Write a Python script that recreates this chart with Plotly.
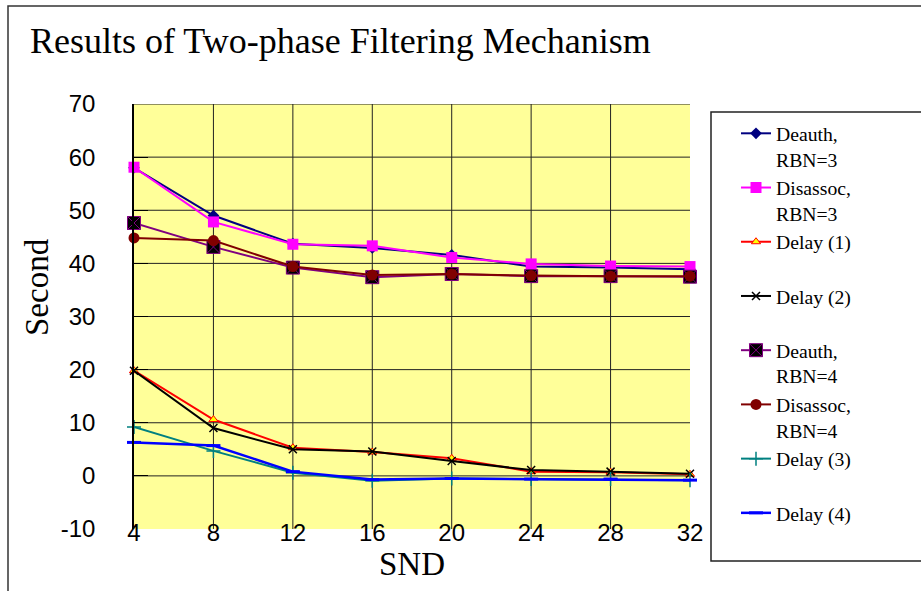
import plotly.graph_objects as go

# ---------------- data ----------------
snd = [4, 8, 12, 16, 20, 24, 28, 32]
deauth_rbn3 = [58.0, 49.0, 43.7, 42.9, 41.6, 39.4, 39.2, 38.9]
disassoc_rbn3 = [58.1, 47.8, 43.6, 43.3, 41.1, 39.9, 39.5, 39.4]
delay_1 = [19.8, 10.6, 5.3, 4.5, 3.3, 0.8, 0.7, 0.3]
delay_2 = [19.8, 9.0, 5.0, 4.6, 2.8, 1.1, 0.8, 0.4]
deauth_rbn4 = [47.6, 43.1, 39.2, 37.4, 38.0, 37.6, 37.6, 37.5]
disassoc_rbn4 = [44.8, 44.3, 39.4, 37.8, 38.0, 37.7, 37.6, 37.6]
delay_3 = [9.2, 4.7, 0.6, -0.9, -0.5, -0.6, -0.6, -0.8]
delay_4 = [6.3, 5.7, 0.8, -0.7, -0.5, -0.6, -0.6, -0.8]

y_ticks = [-10, 0, 10, 20, 30, 40, 50, 60, 70]
y_tick_labels = [str(v) for v in y_ticks]
x_tick_labels = [str(v) for v in snd]

names = ["Deauth,<br>RBN=3", "Disassoc,<br>RBN=3", "Delay (1)<br> ", "Delay (2)<br> ",
         "Deauth,<br>RBN=4", "Disassoc,<br>RBN=4", "Delay (3)<br> ", "Delay (4)<br> "]

# ---------------- layout geometry ----------------
W, H = 921, 591
L, R, T, B = 134, 231, 104, 62
PW, PH = W - L - R, H - T - B

def px_x(px):
    return (px - L) / PW

def px_y(py):
    return (H - B - py) / PH

SERIF = "Liberation Serif, Times New Roman, serif"
SANS = "Liberation Sans, Arial, sans-serif"

styles = [
    dict(line=dict(color="#000080", width=2), marker=dict(symbol="diamond", size=9, color="#000080")),
    dict(line=dict(color="#FF00FF", width=2), marker=dict(symbol="square", size=11, color="#FF00FF")),
    dict(line=dict(color="#FF0000", width=2), marker=dict(symbol="triangle-up", size=8, color="#FFFF00",
                                                          line=dict(color="#FF0000", width=1))),
    dict(line=dict(color="#000000", width=2), marker=dict(symbol="x-thin", size=8, color="#000000",
                                                          line=dict(color="#000000", width=1.5))),
    dict(line=dict(color="#800080", width=2), marker=dict(symbol="square-x", size=13, color="#000000",
                                                          line=dict(color="#800080", width=1))),
    dict(line=dict(color="#800000", width=2), marker=dict(symbol="circle", size=11, color="#800000")),
    dict(line=dict(color="#008080", width=2), marker=dict(symbol="cross-thin", size=10, color="#008080",
                                                          line=dict(color="#008080", width=1.5))),
    dict(line=dict(color="#0000FF", width=2.5), marker=dict(symbol="line-ew", size=10, color="#0000FF",
                                                            line=dict(color="#0000FF", width=3))),
]
series = [deauth_rbn3, disassoc_rbn3, delay_1, delay_2, deauth_rbn4, disassoc_rbn4, delay_3, delay_4]

fig = go.Figure()
for name, ys, st in zip(names, series, styles):
    fig.add_trace(go.Scatter(x=snd, y=ys, name=name, mode="lines+markers", cliponaxis=False, **st))

shapes = []
# grid lines (interior ones and the top one, like the original)
for xv in snd[1:-1]:
    shapes.append(dict(type="line", xref="x", yref="paper", x0=xv, x1=xv, y0=0, y1=1,
                       line=dict(color="#222222", width=1), layer="below"))
for yv in y_ticks[1:]:
    shapes.append(dict(type="line", xref="paper", yref="y", x0=0, x1=1, y0=yv, y1=yv,
                       line=dict(color="#222222", width=1), layer="below"))
# outer chart frame
shapes.append(dict(type="rect", xref="paper", yref="paper",
                   x0=px_x(8), x1=px_x(940), y0=px_y(610), y1=px_y(6),
                   line=dict(color="#333333", width=1.5), fillcolor="rgba(0,0,0,0)", layer="below"))
# legend box
shapes.append(dict(type="rect", xref="paper", yref="paper",
                   x0=px_x(711), x1=px_x(940), y0=px_y(561), y1=px_y(112),
                   line=dict(color="#222222", width=1.5), fillcolor="rgba(0,0,0,0)", layer="below"))

fig.update_layout(
    width=W, height=H,
    margin=dict(l=L, r=R, t=T, b=B, pad=0),
    paper_bgcolor="white",
    plot_bgcolor="#FFFF99",
    shapes=shapes,
    title=dict(text="Results of Two-phase Filtering Mechanism", x=30 / W, xanchor="left", xref="container",
               y=1 - 40 / H, yanchor="middle", yref="container",
               font=dict(family=SERIF, size=36, color="black")),
    legend=dict(x=px_x(736), xanchor="left", y=px_y(114), yanchor="top", maxheight=600,
                font=dict(family=SERIF, size=19.7, color="black"), valign="top",
                bgcolor="rgba(0,0,0,0)", borderwidth=0, tracegroupgap=0),
    annotations=[dict(text="Second", textangle=-90, xref="paper", yref="paper",
                      x=px_x(37), y=px_y(287), xanchor="center", yanchor="middle", showarrow=False,
                      font=dict(family=SERIF, size=33, color="black"))],
    xaxis=dict(range=[4, 32], tickvals=snd, ticktext=x_tick_labels, showgrid=False, zeroline=False,
               showline=False, ticks="", ticklabelstandoff=-13,
               tickfont=dict(family=SANS, size=24, color="black"),
               title=dict(text="SND", font=dict(family=SERIF, size=33, color="black"), standoff=6)),
    yaxis=dict(range=[-10, 70], tickvals=y_ticks, ticktext=y_tick_labels, showgrid=False, zeroline=False,
               showline=True, linecolor="black", linewidth=1.5,
               ticks="inside", ticklen=14, tickcolor="black", tickwidth=1,
               ticklabelstandoff=32, tickfont=dict(family=SANS, size=24, color="black")),
    showlegend=True,
)

fig.write_html("out.html")
